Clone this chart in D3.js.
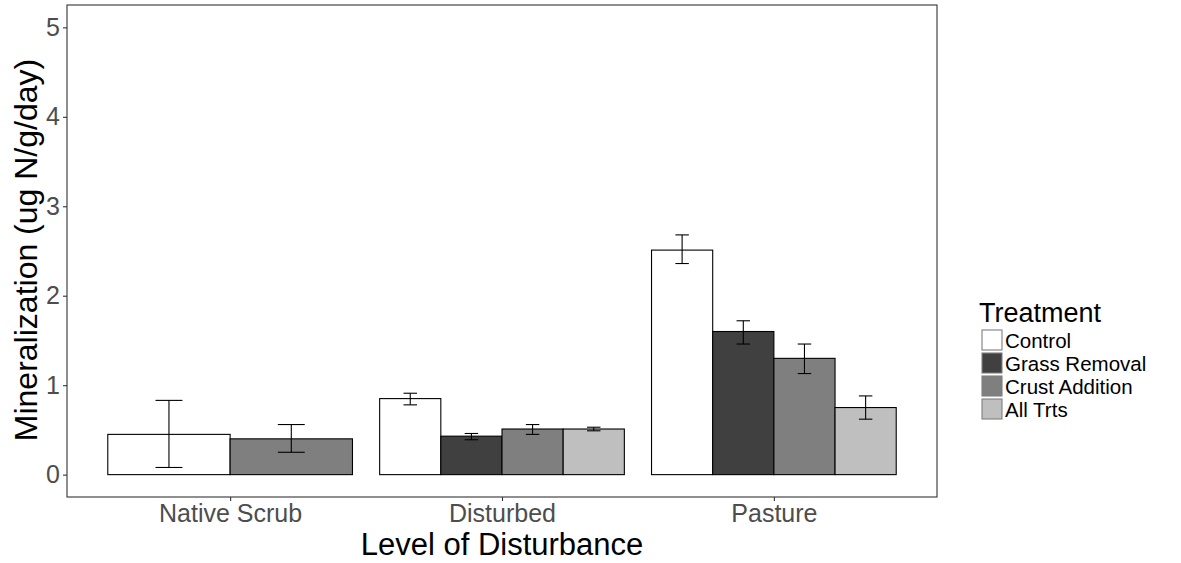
<!DOCTYPE html>
<html>
<head>
<meta charset="utf-8">
<script src="https://cdn.jsdelivr.net/npm/d3@7"></script>
<style>
  body { margin: 0; background: #fff; }
  svg { font-family: "Liberation Sans", Arial, sans-serif; }
</style>
</head>
<body>
<div id="chart"></div>
<script>
const categories = ["Native Scrub", "Disturbed", "Pasture"];
const treatments = ["Control", "Grass Removal", "Crust Addition", "All Trts"];
const fills = ["#ffffff", "#404040", "#7f7f7f", "#bfbfbf"];

// mean, lower and upper error per category, null where the treatment is missing
const means = {
  "Control":        [0.45, 0.85, 2.51],
  "Grass Removal":  [null, 0.43, 1.60],
  "Crust Addition": [0.40, 0.51, 1.30],
  "All Trts":       [null, 0.51, 0.75]
};
const lows = {
  "Control":        [0.08, 0.78, 2.36],
  "Grass Removal":  [null, 0.39, 1.46],
  "Crust Addition": [0.25, 0.45, 1.13],
  "All Trts":       [null, 0.49, 0.62]
};
const highs = {
  "Control":        [0.83, 0.91, 2.68],
  "Grass Removal":  [null, 0.46, 1.72],
  "Crust Addition": [0.56, 0.56, 1.46],
  "All Trts":       [null, 0.53, 0.88]
};
const yTicks = [0, 1, 2, 3, 4, 5];

const W = 1181, H = 563;
const panel = { left: 67, right: 937, top: 5, bottom: 497 };

const svg = d3.select("#chart").append("svg")
  .attr("width", W).attr("height", H);

// discrete axis like ggplot: 0.6 expansion each side
const xPos = d3.scaleLinear()
  .domain([0.4, categories.length + 0.6])
  .range([panel.left, panel.right]);
const y = d3.scaleLinear()
  .domain([-0.25, 5.25])
  .range([panel.bottom, panel.top]);

// build rows per category; dodge only among present treatments
const rows = [];
categories.forEach(function (cat, ci) {
  const present = treatments.filter(function (t) { return means[t][ci] != null; });
  const bw = 0.9 / present.length;
  present.forEach(function (t, k) {
    const left = ci + 1 - 0.45 + k * bw;
    rows.push({
      cat: cat, t: t, fill: fills[treatments.indexOf(t)],
      x0: left, x1: left + bw,
      v: means[t][ci], lo: lows[t][ci], hi: highs[t][ci]
    });
  });
});

// bars
svg.append("g").selectAll("rect")
  .data(rows).enter().append("rect")
  .attr("x", function (d) { return xPos(d.x0); })
  .attr("width", function (d) { return xPos(d.x1) - xPos(d.x0); })
  .attr("y", function (d) { return y(d.v); })
  .attr("height", function (d) { return y(0) - y(d.v); })
  .attr("fill", function (d) { return d.fill; })
  .attr("stroke", "#000")
  .attr("stroke-width", 1.1);

// error bars
const eb = svg.append("g").attr("stroke", "#000").attr("stroke-width", 1.1);
rows.forEach(function (d) {
  const cx = xPos((d.x0 + d.x1) / 2);
  const half = (xPos(d.x1) - xPos(d.x0)) * 0.11;
  eb.append("line").attr("x1", cx).attr("x2", cx).attr("y1", y(d.lo)).attr("y2", y(d.hi));
  eb.append("line").attr("x1", cx - half).attr("x2", cx + half).attr("y1", y(d.lo)).attr("y2", y(d.lo));
  eb.append("line").attr("x1", cx - half).attr("x2", cx + half).attr("y1", y(d.hi)).attr("y2", y(d.hi));
});

// panel border
svg.append("rect")
  .attr("x", panel.left).attr("y", panel.top)
  .attr("width", panel.right - panel.left)
  .attr("height", panel.bottom - panel.top)
  .attr("fill", "none").attr("stroke", "#333").attr("stroke-width", 1.1);

// y axis
const yAxis = d3.axisLeft(y).tickValues(yTicks).tickFormat(d3.format("d"))
  .tickSize(4).tickPadding(3);
const gy = svg.append("g").attr("transform", "translate(" + panel.left + ",0)").call(yAxis);
gy.select(".domain").remove();
gy.selectAll(".tick line").attr("stroke", "#333").attr("stroke-width", 1.1);
gy.selectAll(".tick text").attr("fill", "#4d4d4d").style("font-size", "25px")
  .attr("font-family", null);

// x axis
const xBand = d3.scaleOrdinal().domain(categories)
  .range(categories.map(function (c, i) { return xPos(i + 1); }));
const xAxis = d3.axisBottom(xBand).tickSize(4).tickPadding(3);
const gx = svg.append("g").attr("transform", "translate(0," + panel.bottom + ")").call(xAxis);
gx.select(".domain").remove();
gx.selectAll(".tick line").attr("stroke", "#333").attr("stroke-width", 1.1);
gx.selectAll(".tick text").attr("fill", "#4d4d4d").style("font-size", "25px")
  .attr("font-family", null);

// axis titles
svg.append("text")
  .attr("x", (panel.left + panel.right) / 2).attr("y", 555)
  .attr("text-anchor", "middle").style("font-size", "31px")
  .text("Level of Disturbance");
svg.append("text")
  .attr("transform", "translate(37,250) rotate(-90)")
  .attr("text-anchor", "middle").style("font-size", "32px")
  .text("Mineralization (ug N/g/day)");

// legend
const lg = svg.append("g");
lg.append("text").attr("x", 979).attr("y", 322)
  .style("font-size", "27px").text("Treatment");
treatments.forEach(function (t, i) {
  const yy = 330 + i * 23;
  lg.append("rect").attr("x", 982).attr("y", yy)
    .attr("width", 20).attr("height", 20)
    .attr("fill", fills[i]).attr("stroke", "#7f7f7f").attr("stroke-width", 1.1);
  lg.append("text").attr("x", 1005).attr("y", yy + 17.5)
    .style("font-size", "20.5px").text(t);
});
</script>
</body>
</html>
